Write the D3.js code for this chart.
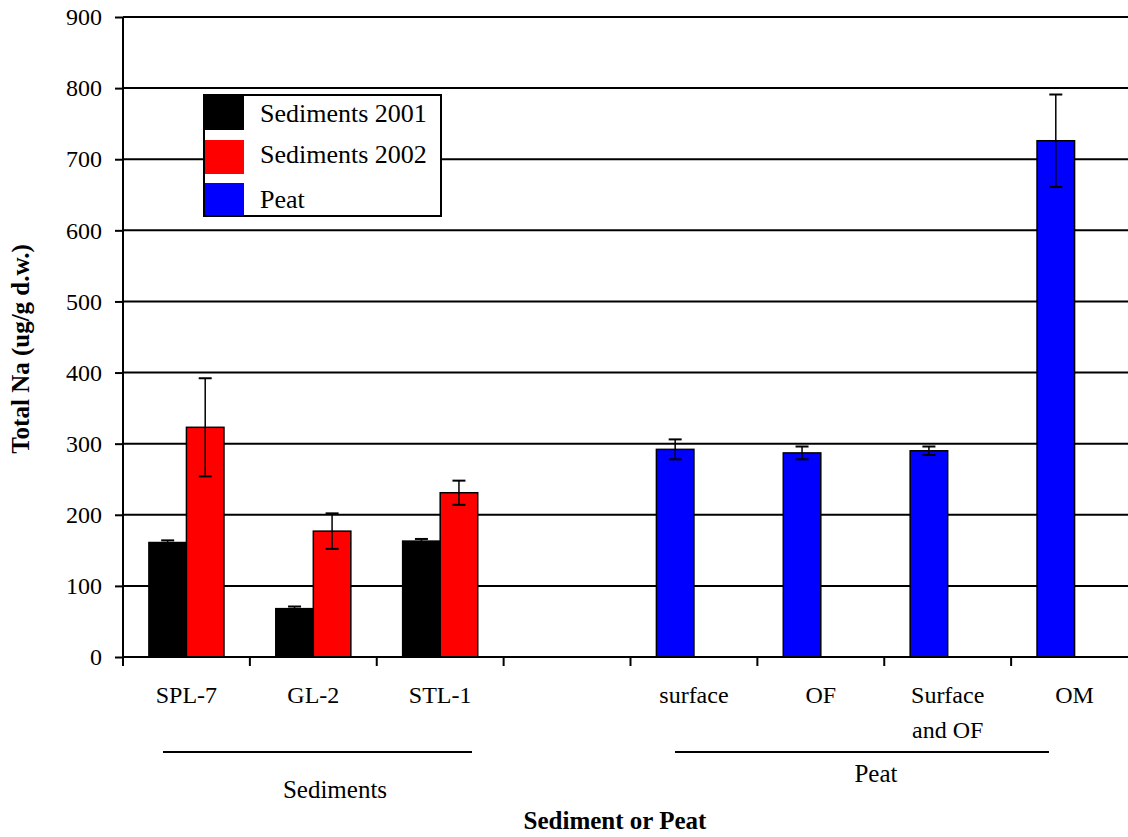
<!DOCTYPE html>
<html>
<head>
<meta charset="utf-8">
<script src="https://cdn.jsdelivr.net/npm/d3@7"></script>
<style>
  html, body { margin: 0; padding: 0; background: #fff; }
  svg { display: block; font-family: "Liberation Serif", "Times New Roman", serif; }
</style>
</head>
<body>
<svg id="chart" width="1128" height="837"></svg>
<script>
// ---- data ----
const categories = ["SPL-7", "GL-2", "STL-1", "", "surface", "OF", "Surface\nand OF", "OM"];
const sed2001 = [161, 68, 163, null, null, null, null, null];
const sed2001Err = [3, 3, 3, null, null, null, null, null];
const sed2002 = [323, 177, 231, null, null, null, null, null];
const sed2002Err = [69, 25, 17, null, null, null, null, null];
const peat = [null, null, null, null, 292, 287, 290, 726];
const peatErr = [null, null, null, null, 14, 9, 6, 65];
const yTicks = [0, 100, 200, 300, 400, 500, 600, 700, 800, 900];
const legendLabels = ["Sediments 2001", "Sediments 2002", "Peat"];
const legendColors = ["#000000", "#ff0000", "#0000ff"];
const groups = [
  { label: "Sediments", from: 0, to: 2 },
  { label: "Peat", from: 4, to: 7 }
];

// ---- layout ----
const svg = d3.select("#chart");
const pLeft = 123, pRight = 1138, pTop = 17, pBottom = 657;

const x = d3.scaleBand().domain(d3.range(categories.length)).range([pLeft, pRight]).padding(0);
const xs = d3.scaleBand().domain([0, 1]).range([0, x.bandwidth()]).paddingInner(0).paddingOuter(0.69);
const y = d3.scaleLinear().domain([0, 900]).range([pBottom, pTop]);

// gridlines
svg.append("g").selectAll("line").data(yTicks.filter(d => d > 0)).join("line")
  .attr("x1", pLeft).attr("x2", 1128)
  .attr("y1", d => y(d)).attr("y2", d => y(d))
  .attr("stroke", "#000").attr("stroke-width", 2);

// series
const series = [
  { vals: sed2001, errs: sed2001Err, color: "#000000", slot: 0 },
  { vals: sed2002, errs: sed2002Err, color: "#ff0000", slot: 1 },
  { vals: peat, errs: peatErr, color: "#0000ff", slot: 0 }
];

const barsG = svg.append("g");
const errG = svg.append("g");
series.forEach(s => {
  const data = s.vals.map((v, i) => ({ i, v, e: s.errs[i] })).filter(d => d.v != null);
  barsG.selectAll(null).data(data).join("rect")
    .attr("x", d => x(d.i) + xs(s.slot))
    .attr("width", xs.bandwidth())
    .attr("y", d => y(d.v))
    .attr("height", d => y(0) - y(d.v))
    .attr("fill", s.color)
    .attr("stroke", "#000").attr("stroke-width", 1.5);
  const cx = d => x(d.i) + xs(s.slot) + xs.bandwidth() / 2;
  errG.selectAll(null).data(data).join("line")
    .attr("x1", cx).attr("x2", cx)
    .attr("y1", d => y(d.v + d.e)).attr("y2", d => y(d.v - d.e))
    .attr("stroke", "#000").attr("stroke-width", 1.5);
  ["+", "-"].forEach(sign => {
    errG.selectAll(null).data(data).join("line")
      .attr("x1", d => cx(d) - 6.5).attr("x2", d => cx(d) + 6.5)
      .attr("y1", d => y(sign === "+" ? d.v + d.e : d.v - d.e))
      .attr("y2", d => y(sign === "+" ? d.v + d.e : d.v - d.e))
      .attr("stroke", "#000").attr("stroke-width", 2);
  });
});

// y axis
const yAxis = d3.axisLeft(y).tickValues(yTicks).tickSize(8).tickPadding(13);
const yg = svg.append("g").attr("transform", `translate(${pLeft},0)`).call(yAxis);
yg.select(".domain").attr("stroke", "#000").attr("stroke-width", 2).attr("d", `M0,${pTop}V${pBottom}`);
yg.selectAll(".tick line").attr("stroke", "#000").attr("stroke-width", 2);
yg.selectAll(".tick text").attr("font-size", 24).attr("font-family", "Liberation Serif, Times New Roman, serif").attr("fill", "#000");

// x axis
const xAxis = d3.axisBottom(x).tickSize(0).tickFormat("");
const xg = svg.append("g").attr("transform", `translate(0,${pBottom})`).call(xAxis);
xg.select(".domain").attr("stroke", "#000").attr("stroke-width", 2).attr("d", `M${pLeft},0H1128`);
xg.selectAll(".tick").remove();
const boundaries = d3.range(categories.length + 1).map(i => pLeft + i * x.step());
xg.selectAll(".bt").data(boundaries).join("line").attr("class", "bt")
  .attr("x1", d => d).attr("x2", d => d).attr("y1", 0).attr("y2", 9)
  .attr("stroke", "#000").attr("stroke-width", 2);

// category labels
categories.forEach((c, i) => {
  const lines = c.split("\n");
  const t = svg.append("text")
    .attr("x", x(i) + x.bandwidth() / 2).attr("y", 703)
    .attr("text-anchor", "middle").attr("font-size", 24).attr("fill", "#000");
  lines.forEach((ln, k) => {
    t.append("tspan").attr("x", x(i) + x.bandwidth() / 2).attr("dy", k === 0 ? 0 : 35).text(ln);
  });
});

// group lines & labels
const groupLine = [[163, 472], [675, 1049]];
const groupLabelPos = [[335, 798], [876, 782]];
groups.forEach((g, k) => {
  svg.append("line")
    .attr("x1", groupLine[k][0]).attr("x2", groupLine[k][1])
    .attr("y1", 752).attr("y2", 752)
    .attr("stroke", "#000").attr("stroke-width", 2);
  svg.append("text").attr("x", groupLabelPos[k][0]).attr("y", groupLabelPos[k][1])
    .attr("text-anchor", "middle").attr("font-size", 25).attr("fill", "#000").text(g.label);
});

// axis titles
svg.append("text").attr("x", 615).attr("y", 829).attr("text-anchor", "middle")
  .attr("font-size", 25).attr("font-weight", "bold").attr("fill", "#000").text("Sediment or Peat");
svg.append("text").attr("transform", "translate(29,349) rotate(-90)").attr("text-anchor", "middle")
  .attr("font-size", 25).attr("font-weight", "bold").attr("fill", "#000").text("Total Na (ug/g d.w.)");

// legend
const lg = svg.append("g");
lg.append("rect").attr("x", 204).attr("y", 95).attr("width", 237).attr("height", 121)
  .attr("fill", "#fff").attr("stroke", "#000").attr("stroke-width", 2);
const swY = [[95, 130], [140, 174], [183, 216]];
const txtY = [122, 163, 208];
legendLabels.forEach((l, i) => {
  lg.append("rect").attr("x", 204).attr("y", swY[i][0]).attr("width", 40).attr("height", swY[i][1] - swY[i][0])
    .attr("fill", legendColors[i]);
  lg.append("text").attr("x", 260).attr("y", txtY[i]).attr("font-size", 26).attr("fill", "#000").text(l);
});
lg.append("rect").attr("x", 204).attr("y", 95).attr("width", 237).attr("height", 121)
  .attr("fill", "none").attr("stroke", "#000").attr("stroke-width", 2);
</script>
</body>
</html>
